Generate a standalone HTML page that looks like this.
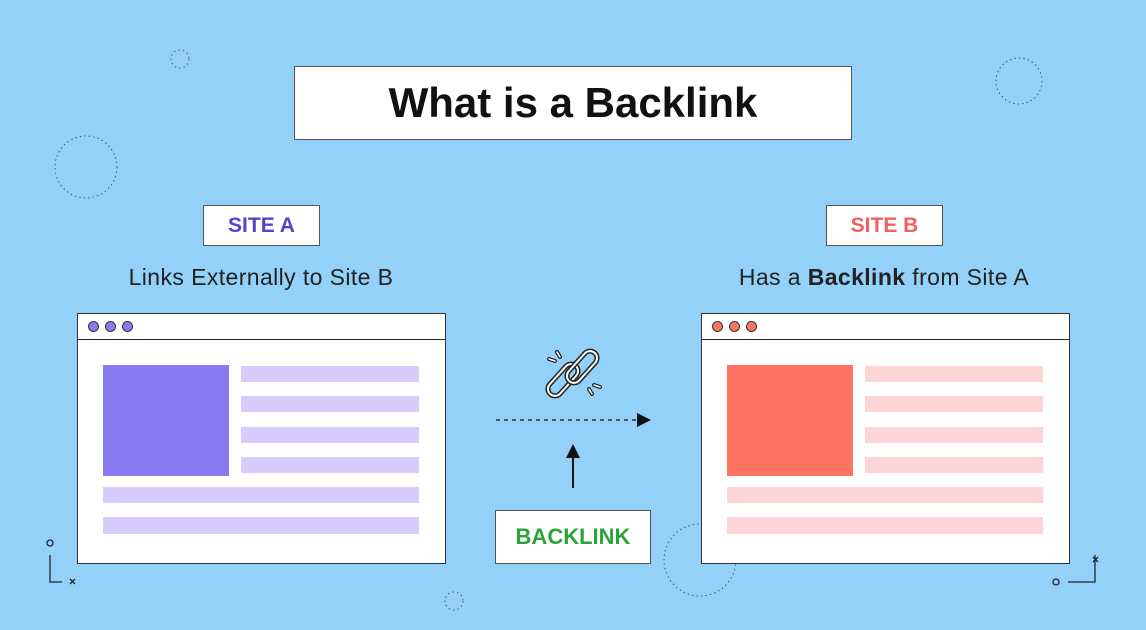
<!DOCTYPE html>
<html><head><style>
body{margin:0;width:1146px;height:630px;background:#94d1f9;position:relative;overflow:hidden;font-family:"Liberation Sans",sans-serif}
.a{position:absolute}
.box{position:absolute;background:#fff;border:1px solid #555;box-sizing:border-box;display:flex;align-items:center;justify-content:center;font-weight:bold}
.win{position:absolute;background:#fff;border:1.5px solid #333;box-sizing:border-box;width:369px;height:251px;top:313px}
.bar{position:absolute;left:0;right:0;top:0;height:25px;border-bottom:1.5px solid #222}
.dot{position:absolute;top:7px;width:11px;height:11px;border-radius:50%;border:1px solid #333;box-sizing:border-box}
.r{position:absolute}
.sub{position:absolute;font-size:23px;color:#222;text-align:center;width:440px;letter-spacing:0.4px}
</style></head><body>
<svg class="a" width="1146" height="630" style="left:0;top:0">
<g fill="none" stroke="#556" stroke-width="1" stroke-dasharray="1.5 3">
<circle cx="180" cy="59" r="9"/><circle cx="1019" cy="81" r="23"/><circle cx="86" cy="167" r="31"/><circle cx="454" cy="601" r="9"/><circle cx="700" cy="560" r="36"/>
</g>
<g stroke="#223" stroke-width="1.3" fill="none">
<circle cx="50" cy="543" r="3"/><path d="M50 555V582H62"/><path d="M70 579l5 5M75 579l-5 5"/>
<circle cx="1056" cy="582" r="3"/><path d="M1068 582H1095V555"/><path d="M1093 557l5 5M1098 557l-5 5"/>
</g>
<path d="M496 420H638" stroke="#111" stroke-width="1.3" stroke-dasharray="4 4"/>
<polygon points="637,413 651,420 637,427" fill="#111"/>
<path d="M573 488V456" stroke="#111" stroke-width="2"/>
<polygon points="566,458 573,444 580,458" fill="#111"/>
<g stroke="#222" stroke-width="2" fill="none" stroke-linecap="round">
<rect x="-7" y="-19" width="14" height="38" rx="7" transform="translate(563 380) rotate(42)" stroke-width="5"/>
<rect x="-7" y="-19" width="14" height="38" rx="7" transform="translate(563 380) rotate(42)" stroke="#fff" stroke-width="2"/>
<rect x="-7" y="-19" width="14" height="38" rx="7" transform="translate(582 367) rotate(42)" stroke-width="5"/>
<rect x="-7" y="-19" width="14" height="38" rx="7" transform="translate(582 367) rotate(42)" stroke="#fff" stroke-width="2"/>
<path d="M557 352l3 5M549 359l6 2M592 394l-3-5M600 387l-6-2" stroke-width="4"/>
<path d="M557 352l3 5M549 359l6 2M592 394l-3-5M600 387l-6-2" stroke="#fff" stroke-width="1.5"/>
</g>
</svg>
<div class="box" style="left:294px;top:66px;width:558px;height:74px;font-size:42px;color:#111">What is a Backlink</div>
<div class="box" style="left:203px;top:205px;width:117px;height:41px;font-size:21px;color:#5545c8">SITE A</div>
<div class="box" style="left:826px;top:205px;width:117px;height:41px;font-size:21px;color:#f0605c">SITE B</div>
<div class="sub" style="left:41px;top:264px">Links Externally to Site B</div>
<div class="sub" style="left:664px;top:264px">Has a <b>Backlink</b> from Site A</div>
<div class="box" style="left:495px;top:510px;width:156px;height:54px;font-size:22px;color:#2ba23a">BACKLINK</div>
<div class="win" style="left:77px">
<div class="bar"></div>
<div class="dot" style="left:10px;background:#8a7af2"></div><div class="dot" style="left:27px;background:#8a7af2"></div><div class="dot" style="left:44px;background:#8a7af2"></div>
<div class="r" style="left:25px;top:51px;width:126px;height:111px;background:#8a7af2"></div>
<div class="r" style="left:163px;top:52px;width:178px;height:16px;background:#d8ccfc"></div>
<div class="r" style="left:163px;top:82px;width:178px;height:16px;background:#d8ccfc"></div>
<div class="r" style="left:163px;top:113px;width:178px;height:16px;background:#d8ccfc"></div>
<div class="r" style="left:163px;top:143px;width:178px;height:16px;background:#d8ccfc"></div>
<div class="r" style="left:25px;top:173px;width:316px;height:16px;background:#d8ccfc"></div>
<div class="r" style="left:25px;top:203px;width:316px;height:17px;background:#d8ccfc"></div>
</div>
<div class="win" style="left:701px">
<div class="bar"></div>
<div class="dot" style="left:10px;background:#fb7565"></div><div class="dot" style="left:27px;background:#fb7565"></div><div class="dot" style="left:44px;background:#fb7565"></div>
<div class="r" style="left:25px;top:51px;width:126px;height:111px;background:#fd7465"></div>
<div class="r" style="left:163px;top:52px;width:178px;height:16px;background:#fed5d5"></div>
<div class="r" style="left:163px;top:82px;width:178px;height:16px;background:#fed5d5"></div>
<div class="r" style="left:163px;top:113px;width:178px;height:16px;background:#fed5d5"></div>
<div class="r" style="left:163px;top:143px;width:178px;height:16px;background:#fed5d5"></div>
<div class="r" style="left:25px;top:173px;width:316px;height:16px;background:#fed5d5"></div>
<div class="r" style="left:25px;top:203px;width:316px;height:17px;background:#fed5d5"></div>
</div>
</body></html>
